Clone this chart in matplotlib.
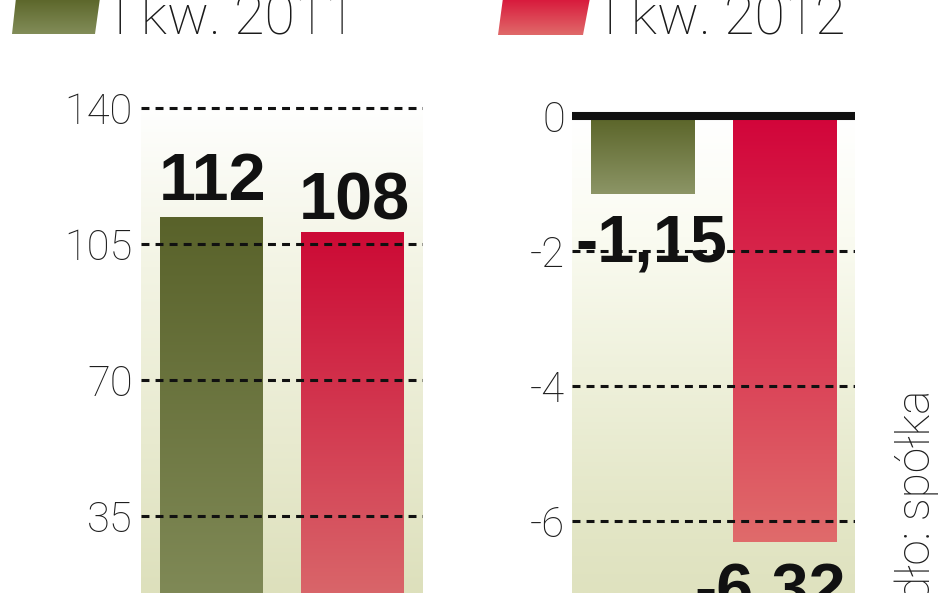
import numpy as np
import matplotlib.pyplot as plt
from matplotlib.colors import LinearSegmentedColormap
from matplotlib.patches import Polygon

# dane z grafiki
quarters = ['I kw. 2011', 'I kw. 2012']
sales = [112, 108]                 # lewy panel
sales_labels = ['112', '108']
sales_ticks = [35, 70, 105, 140]
result = [-1.15, -6.32]            # prawy panel
result_labels = ['-1,15', '-6,32']
result_ticks = [0, -2, -4, -6]
result_tick_labels = ['0', '-2', '-4', '-6']
source = 'Źródło: spółka'

green_top, green_bot = '#59622a', '#858f5d'
red_top, red_bot = '#cc0a35', '#db7472'

LIGHT = ['Roboto', 'DejaVu Sans']
BOLD = ['Liberation Sans', 'DejaVu Sans']

W, H = 948, 593
fig = plt.figure(figsize=(W / 100, H / 100), dpi=100)


def px_axes(x0, x1):
    return fig.add_axes([x0 / W, 0, (x1 - x0) / W, 1])


def vgrad(ax, stops, extent, zorder, clip=None):
    cmap = LinearSegmentedColormap.from_list('g', stops)
    g = np.linspace(0, 1, 256).reshape(-1, 1)
    im = ax.imshow(g, cmap=cmap, aspect='auto', extent=extent,
                   origin='upper', zorder=zorder, interpolation='bilinear')
    if clip is not None:
        im.set_clip_path(clip)
    return im


def draw_panel(ax, values, ylim, bg_stops, top_cols, bot_cols):
    ax.set_xlim(-0.5, 1.5)
    ax.set_ylim(*ylim)
    vgrad(ax, bg_stops, [-0.5, 1.5, ylim[0], ylim[1]], 0)
    bars = ax.bar(range(len(values)), values, width=0.73, color='none',
                  edgecolor='none', zorder=2)
    for b, ct, cb in zip(bars, top_cols, bot_cols):
        y0, y1 = b.get_y(), b.get_y() + b.get_height()
        top, bot = max(y0, y1), min(y0, y1)
        vgrad(ax, [ct, cb], [b.get_x(), b.get_x() + b.get_width(), bot, top],
              2, clip=b)
    ax.set_xlim(-0.5, 1.5)
    ax.set_ylim(*ylim)
    ax.set_xticks([])
    for s in ax.spines.values():
        s.set_visible(False)
    return bars


# lewy panel - przychody
ax1 = px_axes(141, 423)
bars1 = draw_panel(ax1, sales, (15.2, 167.8),
                   [(0, '#ffffff'), (0.17, '#ffffff'), (0.45, '#f3f4e4'),
                    (0.75, '#e8eacf'), (1, '#dde0bc')],
                   [green_top, red_top], [green_bot, red_bot])
for t in sales_ticks:
    ax1.axhline(t, color='#111111', lw=2.2, ls=(0, (2.6, 2.0)), zorder=3)
ax1.set_yticks(sales_ticks)
ax1.set_yticklabels([str(t) for t in sales_ticks], fontsize=30,
                    family=LIGHT, fontweight='light', color='#1e1e1e')
ax1.tick_params(axis='y', length=0, pad=6)
for b, lab, dy in zip(bars1, sales_labels, [12, 9]):
    ax1.annotate(lab, (b.get_x() + b.get_width() / 2, b.get_height()),
                 xytext=(1, dy), textcoords='offset points', ha='center',
                 va='baseline', fontsize=48, fontweight='bold', family=BOLD,
                 color='#111111', zorder=5)

# prawy panel - wynik netto
ax2 = px_axes(572, 855)
bars2 = draw_panel(ax2, result, (-7.07, 1.72),
                   [(0, '#ffffff'), (0.2, '#ffffff'), (0.4, '#fafbf1'),
                    (0.62, '#eff1dc'), (0.85, '#e4e7c8'), (1, '#dfe2bf')],
                   ['#5a6428', '#d2043a'], ['#8c9566', '#e06b6b'])
for t in result_ticks[1:]:
    ax2.axhline(t, color='#111111', lw=2.2, ls=(0, (2.6, 2.0)), zorder=3)
ax2.axhline(0, color='#111111', lw=5.8, zorder=4)
ax2.set_yticks(result_ticks)
ax2.set_yticklabels(result_tick_labels, fontsize=30, family=LIGHT,
                    fontweight='light', color='#1e1e1e')
ax2.tick_params(axis='y', length=0, pad=5)
for b, lab, dx in zip(bars2, result_labels, [6.5, -10]):
    ax2.annotate(lab, (b.get_x() + b.get_width() / 2, b.get_height()),
                 xytext=(dx, -49), textcoords='offset points', ha='center',
                 va='baseline', fontsize=48, fontweight='bold', family=BOLD,
                 color='#111111', zorder=5)

# legenda i zrodlo
lax = fig.add_axes([0, 0, 1, 1])
lax.set_xlim(0, W)
lax.set_ylim(H, 0)
lax.axis('off')
leg_shapes = [[(12, 34), (95, 34), (100, -2), (16, -2)],
              [(498, 35), (583, 35), (590, -2), (503, -2)]]
leg_cols = [('#5b6529', '#838e5a'), ('#d8163a', '#e06a6a')]
for pts, (ct, cb), name, tx in zip(leg_shapes, leg_cols, quarters, [113, 603]):
    poly = Polygon(pts, closed=True, facecolor='none', edgecolor='none')
    lax.add_patch(poly)
    xs = [p[0] for p in pts]
    vgrad(lax, [ct, cb], [min(xs), max(xs), 35, -2], 1, clip=poly)
    lax.text(tx, 34, name, fontsize=40, family=LIGHT, fontweight='light',
             ha='left', va='baseline', color='#1a1a1a')
lax.set_xlim(0, W)
lax.set_ylim(H, 0)
lax.text(914, 390, source, rotation=90, fontsize=33, family=LIGHT,
         fontweight='light', ha='center', va='top', color='#1e1e1e')

fig.savefig('out.png', dpi=100)
